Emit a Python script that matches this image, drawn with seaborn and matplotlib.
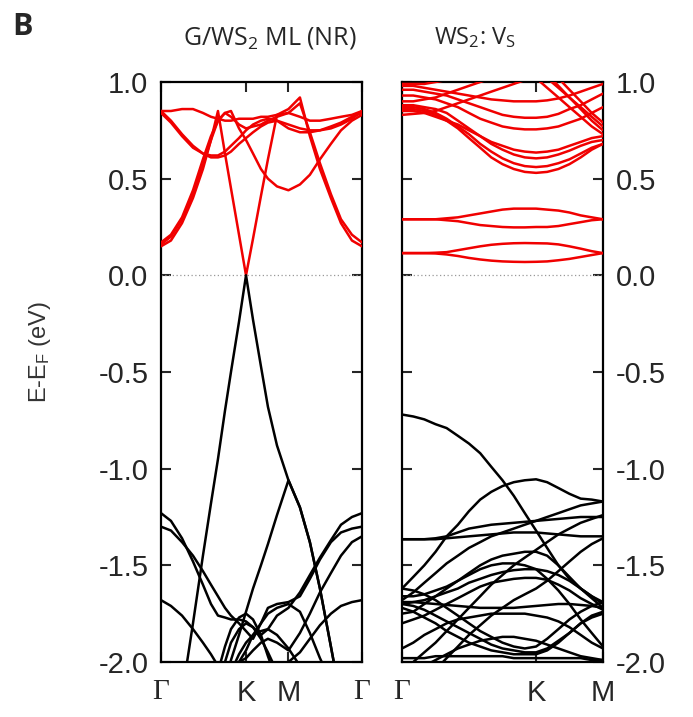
import matplotlib
matplotlib.use('Agg')
import matplotlib.pyplot as plt
import pandas as pd
import seaborn as sns

sns.set_style('ticks')
plt.rcParams['font.family'] = ['Liberation Sans', 'DejaVu Sans']
plt.rcParams['axes.unicode_minus'] = False
plt.rcParams['mathtext.default'] = 'regular'

# ---------------- k-path (path units, Gamma-K = 2/3) ----------------
K_LEFT = [0.0, 0.078, 0.165, 0.251, 0.329, 0.392, 0.447, 0.502, 0.549, 0.612, 0.667,
          0.722, 0.784, 0.839, 0.910, 1.0, 1.090, 1.168, 1.247, 1.333, 1.412, 1.498, 1.577]
K_RIGHT = [0.0, 0.056, 0.111, 0.167, 0.222, 0.278, 0.333, 0.389, 0.444, 0.5, 0.556,
           0.611, 0.667, 0.722, 0.778, 0.833, 0.889, 0.944, 1.0]

TICKS_LEFT = [0.0, 0.667, 1.0, 1.577]
LABELS_LEFT = ['Γ', 'K', 'M', 'Γ']
TICKS_RIGHT = [0.0, 0.667, 1.0]
LABELS_RIGHT = ['Γ', 'K', 'M']

Y_TICKS = [-2.0, -1.5, -1.0, -0.5, 0.0, 0.5, 1.0]
Y_LABELS = ['-2.0', '-1.5', '-1.0', '-0.5', '0.0', '0.5', '1.0']

TITLE_LEFT = 'G/WS$_2$ ML (NR)'
TITLE_RIGHT = 'WS$_2$: V$_S$'

# ---------------- G/WS2 ML (NR): conduction (red) ----------------
COND_LEFT = [
    [0.15, 0.18, 0.27, 0.40, 0.55, 0.70, 0.85, 0.63, 0.45, 0.21, 0.00, 0.19, 0.41,
     0.60, 0.83, 0.86, 0.92, 0.72, 0.55, 0.40, 0.27, 0.18, 0.15],
    [0.17, 0.21, 0.30, 0.44, 0.60, 0.72, 0.80, 0.84, 0.85, 0.76, 0.70, 0.63, 0.55,
     0.50, 0.46, 0.44, 0.47, 0.52, 0.60, 0.68, 0.75, 0.80, 0.83],
    [0.16, 0.20, 0.29, 0.42, 0.57, 0.70, 0.80, 0.84, 0.82, 0.78, 0.76, 0.77, 0.78,
     0.80, 0.82, 0.84, 0.89, 0.74, 0.58, 0.42, 0.29, 0.21, 0.17],
    [0.85, 0.85, 0.86, 0.86, 0.84, 0.82, 0.81, 0.80, 0.80, 0.81, 0.81, 0.81, 0.82,
     0.82, 0.83, 0.84, 0.82, 0.80, 0.80, 0.81, 0.82, 0.83, 0.85],
    [0.85, 0.80, 0.73, 0.67, 0.63, 0.61, 0.61, 0.62, 0.64, 0.68, 0.71, 0.74, 0.77,
     0.79, 0.80, 0.78, 0.76, 0.75, 0.75, 0.76, 0.78, 0.81, 0.85],
    [0.84, 0.79, 0.72, 0.66, 0.63, 0.62, 0.62, 0.64, 0.67, 0.71, 0.75, 0.78, 0.80,
     0.81, 0.80, 0.76, 0.74, 0.74, 0.75, 0.77, 0.79, 0.82, 0.84],
]

# ---------------- G/WS2 ML (NR): valence (black) ----------------
VAL_LEFT = [
    [-2.85, -2.55, -2.17, -1.80, -1.45, -1.18, -0.95, -0.70, -0.50, -0.24, 0.00, -0.23,
     -0.47, -0.68, -0.88, -1.06, -1.20, -1.38, -1.62, -1.92, -2.20, -2.50, -2.80],
    [-3.20, -3.00, -2.80, -2.65, -2.50, -2.35, -2.22, -2.10, -1.99, -1.86, -1.74, -1.62,
     -1.50, -1.39, -1.24, -1.06, -1.20, -1.38, -1.62, -1.92, -2.20, -2.50, -2.80],
    [-1.23, -1.27, -1.36, -1.48, -1.60, -1.70, -1.76, -1.77, -1.78, -1.78, -1.79, -1.82,
     -1.86, -1.83, -1.76, -1.72, -1.64, -1.55, -1.46, -1.37, -1.29, -1.25, -1.23],
    [-1.30, -1.32, -1.38, -1.45, -1.53, -1.60, -1.66, -1.72, -1.76, -1.80, -1.84, -1.88,
     -1.80, -1.72, -1.70, -1.69, -1.66, -1.57, -1.47, -1.38, -1.33, -1.31, -1.30],
    [-1.68, -1.71, -1.76, -1.83, -1.90, -1.96, -2.02, -2.08, -2.14, -2.20, -2.25, -2.20,
     -2.15, -2.10, -2.05, -2.00, -1.95, -1.88, -1.81, -1.75, -1.71, -1.69, -1.68],
    [-2.60, -2.50, -2.40, -2.30, -2.25, -2.20, -2.05, -1.92, -1.83, -1.77, -1.75, -1.78,
     -1.86, -1.97, -2.10, -2.25, -2.35, -2.45, -2.55, -2.60, -2.65, -2.70, -2.70],
    [-2.60, -2.50, -2.40, -2.30, -2.25, -2.22, -2.15, -2.00, -1.90, -1.83, -1.80, -1.82,
     -1.88, -1.95, -2.05, -2.20, -2.35, -2.45, -2.55, -2.60, -2.65, -2.70, -2.70],
    [-2.60, -2.50, -2.40, -2.30, -2.25, -2.20, -2.15, -2.10, -2.05, -2.00, -1.94, -1.86,
     -1.80, -1.75, -1.72, -1.70, -1.74, -1.85, -1.98, -2.10, -2.20, -2.30, -2.40],
    [-2.60, -2.50, -2.40, -2.30, -2.25, -2.20, -2.18, -2.12, -2.05, -1.96, -1.90, -1.86,
     -1.84, -1.83, -1.86, -1.93, -2.02, -2.10, -2.20, -2.30, -2.40, -2.50, -2.60],
    [-2.40, -2.30, -2.25, -2.20, -2.15, -2.10, -2.08, -2.05, -2.02, -2.00, -1.98, -1.94,
     -1.90, -1.88, -1.90, -1.94, -1.85, -1.75, -1.64, -1.54, -1.45, -1.38, -1.35],
]

# ---------------- WS2:Vs: conduction + defect states (red) ----------------
COND_RIGHT = [
    [0.29, 0.29, 0.29, 0.29, 0.295, 0.30, 0.31, 0.32, 0.33, 0.34, 0.345, 0.345, 0.345,
     0.34, 0.335, 0.325, 0.31, 0.30, 0.29],
    [0.29, 0.29, 0.29, 0.29, 0.285, 0.28, 0.27, 0.26, 0.255, 0.25, 0.248, 0.248, 0.25,
     0.25, 0.255, 0.265, 0.275, 0.285, 0.29],
    [0.115, 0.115, 0.115, 0.117, 0.12, 0.13, 0.14, 0.15, 0.158, 0.163, 0.166, 0.167, 0.166,
     0.165, 0.16, 0.15, 0.138, 0.125, 0.115],
    [0.115, 0.115, 0.115, 0.113, 0.108, 0.10, 0.09, 0.082, 0.076, 0.072, 0.07, 0.069, 0.07,
     0.072, 0.078, 0.085, 0.095, 0.105, 0.115],
    [0.86, 0.86, 0.85, 0.83, 0.80, 0.76, 0.71, 0.66, 0.61, 0.575, 0.55, 0.535, 0.53,
     0.535, 0.55, 0.575, 0.61, 0.65, 0.68],
    [0.87, 0.87, 0.86, 0.84, 0.81, 0.77, 0.73, 0.68, 0.64, 0.605, 0.58, 0.565, 0.56,
     0.565, 0.58, 0.60, 0.63, 0.66, 0.68],
    [0.88, 0.88, 0.87, 0.86, 0.84, 0.80, 0.76, 0.72, 0.68, 0.65, 0.625, 0.61, 0.605,
     0.61, 0.625, 0.645, 0.67, 0.69, 0.70],
    [0.85, 0.85, 0.84, 0.82, 0.80, 0.78, 0.75, 0.72, 0.69, 0.67, 0.65, 0.64, 0.635,
     0.64, 0.65, 0.67, 0.69, 0.71, 0.72],
    [0.93, 0.93, 0.92, 0.91, 0.89, 0.87, 0.84, 0.81, 0.79, 0.77, 0.76, 0.755, 0.755,
     0.76, 0.77, 0.79, 0.81, 0.84, 0.87],
    [0.96, 0.96, 0.95, 0.94, 0.93, 0.91, 0.89, 0.87, 0.85, 0.83, 0.82, 0.815, 0.815,
     0.82, 0.835, 0.86, 0.88, 0.91, 0.94],
    [0.98, 0.98, 0.97, 0.96, 0.95, 0.94, 0.93, 0.92, 0.91, 0.905, 0.90, 0.90, 0.90,
     0.905, 0.915, 0.93, 0.95, 0.97, 0.99],
    [1.30, 1.28, 1.26, 1.24, 1.22, 1.20, 1.17, 1.14, 1.11, 1.09, 1.07, 1.05, 1.02,
     0.97, 0.92, 0.87, 0.82, 0.77, 0.73],
    [1.32, 1.30, 1.28, 1.26, 1.24, 1.22, 1.19, 1.16, 1.13, 1.11, 1.09, 1.08, 1.06,
     1.02, 0.97, 0.92, 0.87, 0.82, 0.77],
    [1.30, 1.28, 1.26, 1.24, 1.22, 1.20, 1.18, 1.16, 1.14, 1.12, 1.10, 1.08, 1.06,
     1.04, 0.98, 0.92, 0.86, 0.80, 0.75],
    [1.35, 1.33, 1.31, 1.29, 1.27, 1.25, 1.23, 1.21, 1.19, 1.17, 1.15, 1.12, 1.10,
     1.07, 1.02, 0.96, 0.90, 0.84, 0.79],
    [0.90, 0.90, 0.91, 0.92, 0.94, 0.96, 0.98, 1.00, 1.02, 1.04, 1.06, 1.08, 1.10,
     1.12, 1.14, 1.16, 1.18, 1.20, 1.22],
    [0.83, 0.835, 0.84, 0.85, 0.87, 0.89, 0.91, 0.93, 0.95, 0.97, 0.99, 1.01, 1.03,
     1.05, 1.07, 1.09, 1.11, 1.13, 1.15],
    [0.99, 0.99, 0.99, 1.00, 1.01, 1.02, 1.03, 1.04, 1.05, 1.06, 1.07, 1.08, 1.09,
     1.10, 1.11, 1.12, 1.13, 1.14, 1.15],
]

# ---------------- WS2:Vs: valence (black) ----------------
VAL_RIGHT = [
    [-0.72, -0.73, -0.745, -0.77, -0.79, -0.83, -0.87, -0.92, -0.99, -1.06, -1.14, -1.23,
     -1.32, -1.41, -1.50, -1.57, -1.62, -1.67, -1.72],
    [-1.62, -1.56, -1.50, -1.43, -1.35, -1.29, -1.22, -1.16, -1.12, -1.09, -1.07, -1.06,
     -1.055, -1.07, -1.10, -1.13, -1.155, -1.16, -1.17],
    [-1.365, -1.365, -1.365, -1.36, -1.35, -1.33, -1.31, -1.30, -1.29, -1.285, -1.28,
     -1.275, -1.27, -1.265, -1.26, -1.255, -1.25, -1.25, -1.25],
    [-1.365, -1.365, -1.365, -1.365, -1.36, -1.355, -1.35, -1.345, -1.34, -1.335, -1.33,
     -1.33, -1.33, -1.335, -1.34, -1.345, -1.35, -1.35, -1.35],
    [-1.68, -1.64, -1.59, -1.54, -1.49, -1.45, -1.41, -1.38, -1.35, -1.33, -1.31, -1.29,
     -1.27, -1.25, -1.23, -1.21, -1.19, -1.18, -1.17],
    [-1.75, -1.74, -1.70, -1.66, -1.62, -1.58, -1.54, -1.50, -1.47, -1.45, -1.44, -1.43,
     -1.43, -1.45, -1.50, -1.56, -1.62, -1.66, -1.69],
    [-1.70, -1.69, -1.68, -1.66, -1.64, -1.62, -1.59, -1.57, -1.55, -1.535, -1.525, -1.52,
     -1.52, -1.53, -1.55, -1.58, -1.62, -1.66, -1.70],
    [-1.80, -1.78, -1.76, -1.73, -1.70, -1.67, -1.64, -1.61, -1.59, -1.58, -1.57, -1.565,
     -1.565, -1.575, -1.60, -1.63, -1.67, -1.70, -1.73],
    [-1.69, -1.69, -1.695, -1.70, -1.705, -1.71, -1.715, -1.72, -1.72, -1.72, -1.72, -1.715,
     -1.71, -1.705, -1.70, -1.70, -1.705, -1.71, -1.72],
    [-1.70, -1.71, -1.73, -1.76, -1.79, -1.82, -1.85, -1.88, -1.91, -1.93, -1.94, -1.95,
     -1.95, -1.93, -1.89, -1.85, -1.80, -1.76, -1.74],
    [-1.72, -1.74, -1.77, -1.80, -1.84, -1.87, -1.90, -1.92, -1.94, -1.95, -1.96, -1.96,
     -1.96, -1.94, -1.90, -1.85, -1.80, -1.77, -1.75],
    [-2.05, -2.00, -1.95, -1.90, -1.84, -1.78, -1.72, -1.66, -1.60, -1.55, -1.50, -1.46,
     -1.42, -1.38, -1.34, -1.31, -1.28, -1.26, -1.24],
    [-2.20, -2.15, -2.10, -2.04, -1.98, -1.92, -1.86, -1.81, -1.76, -1.72, -1.68, -1.65,
     -1.62, -1.58, -1.53, -1.48, -1.43, -1.39, -1.36],
    [-1.98, -1.98, -1.98, -1.97, -1.97, -1.97, -1.97, -1.97, -1.97, -1.97, -1.98, -1.98,
     -1.98, -1.98, -1.98, -1.98, -1.98, -1.99, -1.99],
    [-1.93, -1.90, -1.86, -1.83, -1.80, -1.78, -1.77, -1.76, -1.75, -1.75, -1.75, -1.75,
     -1.76, -1.77, -1.79, -1.82, -1.86, -1.90, -1.93],
    [-1.62, -1.63, -1.65, -1.68, -1.72, -1.76, -1.80, -1.84, -1.87, -1.90, -1.92, -1.93,
     -1.92, -1.88, -1.83, -1.78, -1.74, -1.71, -1.69],
    [-1.66, -1.66, -1.65, -1.63, -1.61, -1.58, -1.55, -1.52, -1.50, -1.49, -1.49, -1.50,
     -1.52, -1.57, -1.63, -1.70, -1.78, -1.85, -1.92],
    [-2.10, -2.06, -2.02, -1.99, -1.96, -1.93, -1.91, -1.89, -1.88, -1.87, -1.87, -1.88,
     -1.89, -1.91, -1.93, -1.95, -1.97, -1.98, -1.99],
]


def to_long(kgrid, cond, val):
    rows = []
    for i, band in enumerate(cond):
        for k, e in zip(kgrid, band):
            rows.append({'k': k, 'E': e, 'band': 'c%d' % i, 'kind': 'cond'})
    for i, band in enumerate(val):
        for k, e in zip(kgrid, band):
            rows.append({'k': k, 'E': e, 'band': 'v%d' % i, 'kind': 'val'})
    return pd.DataFrame(rows)


df_left = to_long(K_LEFT, COND_LEFT, VAL_LEFT)
df_right = to_long(K_RIGHT, COND_RIGHT, VAL_RIGHT)
PALETTE = {'cond': '#f00000', 'val': 'black'}

fig = plt.figure(figsize=(6.93, 7.17), dpi=100)
ax1 = fig.add_axes([161 / 693, 1 - 662 / 717, 201 / 693, 580 / 717])
ax2 = fig.add_axes([402 / 693, 1 - 662 / 717, 201 / 693, 580 / 717])

for ax, df, kt, kl in [(ax1, df_left, TICKS_LEFT, LABELS_LEFT),
                       (ax2, df_right, TICKS_RIGHT, LABELS_RIGHT)]:
    ax.axhline(0.0, color='#999999', lw=0.9, ls=(0, (1, 2)), zorder=1)
    sns.lineplot(data=df, x='k', y='E', hue='kind', units='band', estimator=None,
                 sort=False, palette=PALETTE, legend=False, lw=1.8, ax=ax, zorder=3)
    ax.set_xlim(kt[0], kt[-1])
    ax.set_ylim(-2.0, 1.0)
    ax.set_xticks(kt)
    ax.set_xticklabels(kl, fontsize=21)
    for t in ax.get_xticklabels():
        if t.get_text() == 'Γ':
            t.set_fontfamily(['Liberation Serif', 'DejaVu Serif'])
    ax.set_yticks(Y_TICKS)
    ax.set_yticklabels(Y_LABELS, fontsize=21)
    ax.set_xlabel('')
    ax.set_ylabel('')
    ax.tick_params(direction='in', length=7, width=1.5, top=True, bottom=True,
                   left=True, right=True, pad=9)
    ax.tick_params(axis='x', pad=12)
    for s in ax.spines.values():
        s.set_linewidth(1.6)
        s.set_color('black')

ax1.tick_params(labelleft=True, labelright=False)
ax2.tick_params(labelleft=False, labelright=True)

fig.text(40 / 693, 1 - 352 / 717, 'E-E$_F$ (eV)', rotation=90, ha='center', va='center',
         fontsize=17, color='#333333')

fig.text(270 / 693, 1 - 38 / 717, TITLE_LEFT, ha='center', va='center',
         fontsize=18, family=['Open Sans', 'DejaVu Sans'])
fig.text(475 / 693, 1 - 38 / 717, TITLE_RIGHT, ha='center', va='center',
         fontsize=17, family=['Open Sans', 'DejaVu Sans'])
fig.text(12 / 693, 1 - 27 / 717, 'B', ha='left', va='center', fontsize=22,
         fontweight='bold', family=['Open Sans', 'DejaVu Sans'])

fig.savefig('out.png', dpi=100)
